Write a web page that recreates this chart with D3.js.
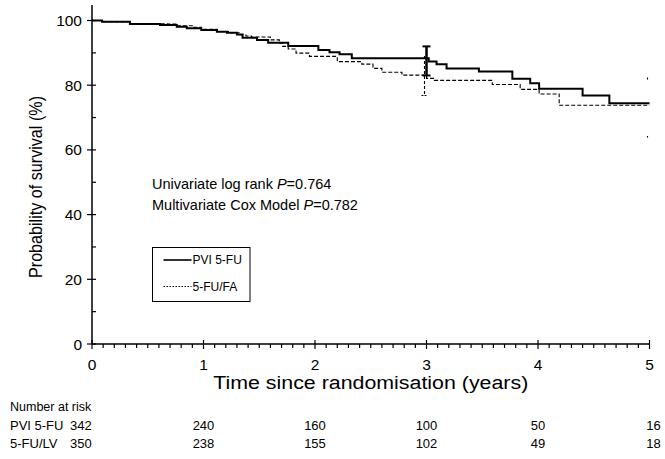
<html>
<script src="https://d3js.org/d3.v7.min.js"></script>
<style>
  body { margin: 0; background: #fff; }
  text { font-family: "Liberation Sans", Arial, sans-serif; fill: #000; }
</style>
<body>
<div id="chart_area"></div>
<script>
// step curves: [time (years), survival %]
var pvi = [[0,100],[0.09,99.6],[0.34,98.9],[0.61,98.6],[0.76,98.1],[0.85,97.6],[0.98,97.1],[1.12,96.5],[1.21,96.2],[1.30,95.7],[1.35,94.7],[1.48,94.0],[1.58,93.1],[1.76,92.1],[2.03,90.9],[2.13,90.2],[2.22,89.6],[2.33,88.3],[3.02,87.3],[3.09,86.5],[3.18,85.2],[3.47,84.2],[3.77,82.0],[3.93,80.6],[4.01,78.9],[4.40,76.8],[4.64,74.4],[5,74.4]];
var fufa = [[0,100],[0.09,99.6],[0.34,99.0],[0.68,98.9],[0.76,98.4],[0.9,97.9],[0.98,97.3],[1.12,96.6],[1.24,96.2],[1.32,95.6],[1.38,95.2],[1.43,94.9],[1.6,94.0],[1.68,93.0],[1.71,92.0],[1.76,91.2],[1.83,89.9],[1.95,88.9],[2.2,87.3],[2.42,86.5],[2.52,85.2],[2.6,84.0],[2.78,83.1],[3.0,82.1],[3.07,81.5],[3.59,80.2],[3.84,78.7],[4.01,77.3],[4.19,73.8],[5,73.8]];
// confidence bars: [time, lower, upper]
var pviCI = [[3, 83.0, 92.0]];
var fufaCI = [[3, 76.8, 89.0], [5, 63.8, 82.4]];

var riskTimes = [0, 1, 2, 3, 4, 5];
var riskGroups = ["PVI 5-FU", "5-FU/LV"];
var riskPvi = [342, 240, 160, 100, 50, 16];
var riskFufa = [350, 238, 155, 102, 49, 18];

var xTicks = [0, 1, 2, 3, 4, 5];
var yTicks = [0, 20, 40, 60, 80, 100];

var width = 665, height = 459;
var x = d3.scaleLinear().domain([0, 5]).range([92, 649.5]);
var y = d3.scaleLinear().domain([0, 100]).range([344, 20.5]);

var svg = d3.select("#chart_area").append("svg")
    .attr("width", width).attr("height", height);

// axes lines
svg.append("line").attr("x1", x(0)).attr("x2", x(0)).attr("y1", y(0)).attr("y2", 5)
    .attr("stroke", "#000").attr("stroke-width", 1.5);
svg.append("line").attr("x1", x(0)).attr("x2", x(5)).attr("y1", y(0)).attr("y2", y(0))
    .attr("stroke", "#000").attr("stroke-width", 1.5);

// y ticks
svg.append("g").selectAll("line").data(d3.range(0, 101, 10)).enter().append("line")
    .attr("x1", d => d % 20 == 0 ? x(0) - 5 : x(0))
    .attr("x2", x(0) + 4)
    .attr("y1", d => y(d)).attr("y2", d => y(d))
    .attr("stroke", "#000").attr("stroke-width", 1.2);
svg.append("g").selectAll("text").data(yTicks).enter().append("text")
    .attr("x", x(0) - 10).attr("y", d => y(d) + 5.5)
    .attr("text-anchor", "end").style("font-size", "15.5px").text(d => d);

// x ticks
svg.append("g").selectAll("line").data(d3.range(0, 51)).enter().append("line")
    .attr("x1", d => x(d / 10)).attr("x2", d => x(d / 10))
    .attr("y1", d => d % 10 == 0 ? y(0) - 4 : y(0))
    .attr("y2", d => d % 10 == 0 ? y(0) + 5 : y(0) + 4)
    .attr("stroke", "#000").attr("stroke-width", 1.2);
svg.append("g").selectAll("text").data(xTicks).enter().append("text")
    .attr("x", d => x(d)).attr("y", 370)
    .attr("text-anchor", "middle").style("font-size", "15.5px").text(d => d);

// titles
svg.append("text").attr("x", (x(0) + x(5)) / 2).attr("y", 389)
    .attr("text-anchor", "middle").style("font-size", "18px")
    .attr("textLength", 315).attr("lengthAdjust", "spacingAndGlyphs")
    .text("Time since randomisation (years)");
svg.append("text").attr("transform", "translate(42,187) rotate(-90)")
    .attr("text-anchor", "middle").style("font-size", "18px")
    .attr("textLength", 182).attr("lengthAdjust", "spacingAndGlyphs")
    .text("Probability of survival (%)");

// curves
var line = d3.line().x(d => x(d[0])).y(d => y(d[1])).curve(d3.curveStepAfter);
svg.append("path").datum(fufa).attr("d", line)
    .attr("fill", "none").attr("stroke", "#000").attr("stroke-width", 1.1)
    .attr("stroke-dasharray", "4,2");
svg.append("path").datum(pvi).attr("d", line)
    .attr("fill", "none").attr("stroke", "#000").attr("stroke-width", 2);

// error bars
var pviBar = svg.append("g").selectAll("g").data(pviCI).enter().append("g");
pviBar.append("line").attr("x1", d => x(d[0])).attr("x2", d => x(d[0]))
    .attr("y1", d => y(d[1])).attr("y2", d => y(d[2]))
    .attr("stroke", "#000").attr("stroke-width", 2.5);
pviBar.selectAll(".cap").data(d => [d[1], d[2]].map(v => [d[0], v])).enter().append("line")
    .attr("x1", d => x(d[0]) - 4).attr("x2", d => x(d[0]) + 4)
    .attr("y1", d => y(d[1])).attr("y2", d => y(d[1]))
    .attr("stroke", "#000").attr("stroke-width", 2);

var fufaBar = svg.append("g").selectAll("g").data(fufaCI).enter().append("g");
fufaBar.append("line").attr("x1", d => x(d[0]) - 2).attr("x2", d => x(d[0]) - 2)
    .attr("y1", d => y(d[2])).attr("y2", d => y(d[1]))
    .attr("stroke", "#000").attr("stroke-width", 1.1)
    .attr("stroke-dasharray", d => d[0] == 5 ? "2,56.5" : "3,2");
fufaBar.filter(d => d[0] < 5).append("line")
    .attr("x1", d => x(d[0]) - 5).attr("x2", d => x(d[0]) + 1)
    .attr("y1", d => y(d[1])).attr("y2", d => y(d[1]))
    .attr("stroke", "#000").attr("stroke-width", 1.1).attr("stroke-dasharray", "2,1");

// p-values
var notes = [["Univariate log rank ", "0.764"], ["Multivariate Cox Model ", "0.782"]];
notes.forEach(function(n, i) {
    var t = svg.append("text").attr("x", 152).attr("y", 189 + i * 21).style("font-size", "14.5px");
    t.append("tspan").text(n[0]);
    t.append("tspan").style("font-style", "italic").text("P");
    t.append("tspan").text("=" + n[1]);
});

// legend
var legend = svg.append("g").attr("transform", "translate(152.5,247.5)");
legend.append("rect").attr("width", 97.5).attr("height", 54)
    .attr("fill", "none").attr("stroke", "#000").attr("stroke-width", 1);
var legendItems = [["PVI 5-FU", null, 1.6], ["5-FU/FA", "1.5,1.5", 1]];
legendItems.forEach(function(it, i) {
    legend.append("line").attr("x1", 11).attr("x2", 39)
        .attr("y1", 12.5 + i * 26.5).attr("y2", 12.5 + i * 26.5)
        .attr("stroke", "#000").attr("stroke-width", it[2])
        .attr("stroke-dasharray", it[1]);
    legend.append("text").attr("x", 40).attr("y", 16.5 + i * 26.5)
        .style("font-size", "12px").text(it[0]);
});

// number at risk table
svg.append("text").attr("x", 10).attr("y", 411).style("font-size", "12.5px").text("Number at risk");
[riskPvi, riskFufa].forEach(function(row, i) {
    var yy = 430 + i * 18;
    svg.append("text").attr("x", 10).attr("y", yy).style("font-size", "13px").text(riskGroups[i]);
    svg.append("g").selectAll("text").data(row).enter().append("text")
        .attr("x", (d, j) => j == 0 ? 70 : x(riskTimes[j]) + (j == 5 ? 4 : 0))
        .attr("y", yy)
        .attr("text-anchor", (d, j) => j == 0 ? "start" : "middle")
        .style("font-size", "13px").text(d => d);
});
</script>
</body>
</html>
